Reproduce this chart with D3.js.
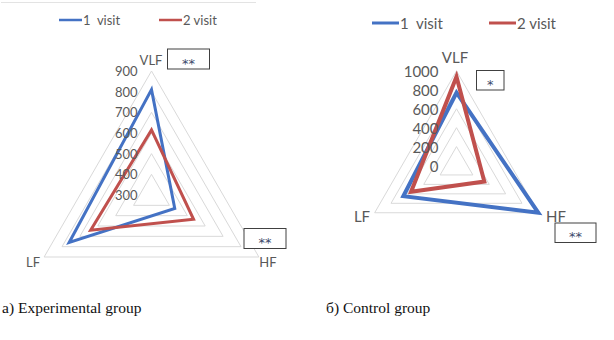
<!DOCTYPE html>
<html><head><meta charset="utf-8">
<script src="https://cdn.jsdelivr.net/npm/d3@7"></script>
<style>body{margin:0;background:#fff}svg{display:block}</style>
</head><body>
<script>
const axesNames = ["VLF", "HF", "LF"];
const seriesNames = ["1\u00A0\u00A0visit", "2 visit"];
const expVisit1 = [810, 430, 760];
const expVisit2 = [615, 535, 640];
const ctrlVisit1 = [770, 1000, 650];
const ctrlVisit2 = [940, 340, 555];
const expTicks = [300, 400, 500, 600, 700, 800, 900];
const ctrlTicks = [0, 200, 400, 600, 800, 1000];
const expMarks = ["**", "", "**"];
const ctrlMarks = ["*", "**", ""];
const captions = ["а) Experimental group", "б) Control group"];
const colors = ["#4472C4", "#C0504D"];

const svg = d3.select("body").append("svg").attr("width", 614).attr("height", 340);

svg.append("line").attr("x1", 1).attr("x2", 256).attr("y1", 2.5).attr("y2", 2.5)
  .attr("stroke", "#e3e3e3").attr("stroke-width", 1);

const charts = [
  {cx: 151.5, cy: 195, R: 124, ticks: expTicks, data: [expVisit1, expVisit2], marks: expMarks,
   lw: 3, tickFont: 13, tickDx: -14, axisFont: 13,
   labelPos: [[151, 60], [268, 262], [33, 262]],
   boxes: [[167.5, 49, 42, 20], null, [244, 228.5, 42, 20]],
   legend: {y: 20, x1: 59, fs: 13, lw: 2.5, lineLen: 23, gap: 52},
   caption: [2, 313]},
  {cx: 456.5, cy: 165.5, R: 94.5, ticks: ctrlTicks, data: [ctrlVisit1, ctrlVisit2], marks: ctrlMarks,
   lw: 4, tickFont: 15, tickDx: -18, axisFont: 15,
   labelPos: [[455, 57], [556, 216], [362, 216]],
   boxes: [[476.5, 70.5, 27.5, 19.5], [555, 223, 41, 19.5], null],
   legend: {y: 23, x1: 372, fs: 15, lw: 3, lineLen: 27, gap: 65},
   caption: [326, 313]}
];

const angles = axesNames.map((d, i) => -Math.PI / 2 + i * 2 * Math.PI / 3);

charts.forEach((c, ci) => {
  const g = svg.append("g");
  const r = d3.scaleLinear().domain([c.ticks[0], c.ticks[c.ticks.length - 1]]).range([0, c.R]);
  const pt = (v, i) => [c.cx + r(v) * Math.cos(angles[i]), c.cy + r(v) * Math.sin(angles[i])];
  const line = d3.line().curve(d3.curveLinearClosed);

  c.ticks.slice(1).forEach(t => {
    g.append("path").attr("d", line(axesNames.map((a, i) => pt(t, i))))
      .attr("fill", "none").attr("stroke", "#d9d9d9").attr("stroke-width", 1);
  });

  c.data.forEach((vals, si) => {
    g.append("path").attr("d", line(vals.map((v, i) => pt(v, i))))
      .attr("fill", "none").attr("stroke", colors[si]).attr("stroke-width", c.lw)
      .attr("stroke-linejoin", "miter");
  });

  c.ticks.forEach(t => {
    g.append("text").attr("x", c.cx + c.tickDx).attr("y", c.cy - r(t))
      .attr("text-anchor", "end").attr("dominant-baseline", "central")
      .attr("font-family", "Lato, 'Open Sans', sans-serif").attr("font-size", c.tickFont)
      .attr("fill", "#595959").text(t);
  });

  axesNames.forEach((a, i) => {
    g.append("text").attr("x", c.labelPos[i][0]).attr("y", c.labelPos[i][1])
      .attr("text-anchor", "middle").attr("dominant-baseline", "central")
      .attr("font-family", "Lato, 'Open Sans', sans-serif").attr("font-size", c.axisFont)
      .attr("fill", "#595959").text(a);
  });

  c.boxes.forEach((b, i) => {
    if (!b) return;
    g.append("rect").attr("x", b[0]).attr("y", b[1]).attr("width", b[2]).attr("height", b[3])
      .attr("fill", "#fff").attr("stroke", "#404040").attr("stroke-width", 1);
    g.append("text").attr("x", b[0] + b[2] / 2).attr("y", b[1] + b[3] / 2 + 4)
      .attr("text-anchor", "middle").attr("dominant-baseline", "central")
      .attr("font-family", "'DejaVu Sans', sans-serif").attr("font-size", 13)
      .attr("fill", "#3b4a6b").text(c.marks[i]);
  });

  const L = c.legend;
  seriesNames.forEach((s, si) => {
    const x0 = L.x1 + si * (L.lineLen + L.gap + 25);
    g.append("line").attr("x1", x0).attr("x2", x0 + L.lineLen).attr("y1", L.y).attr("y2", L.y)
      .attr("stroke", colors[si]).attr("stroke-width", L.lw);
    g.append("text").attr("x", x0 + L.lineLen + 1).attr("y", L.y).attr("dominant-baseline", "central")
      .attr("font-family", "Lato, 'Open Sans', sans-serif").attr("font-size", L.fs)
      .attr("fill", "#595959").text(s);
  });

  svg.append("text").attr("x", c.caption[0]).attr("y", c.caption[1])
    .attr("font-family", "'Liberation Serif', 'Times New Roman', serif").attr("font-size", 15.5)
    .attr("fill", "#111").text(captions[ci]);
});
</script>
</body></html>
